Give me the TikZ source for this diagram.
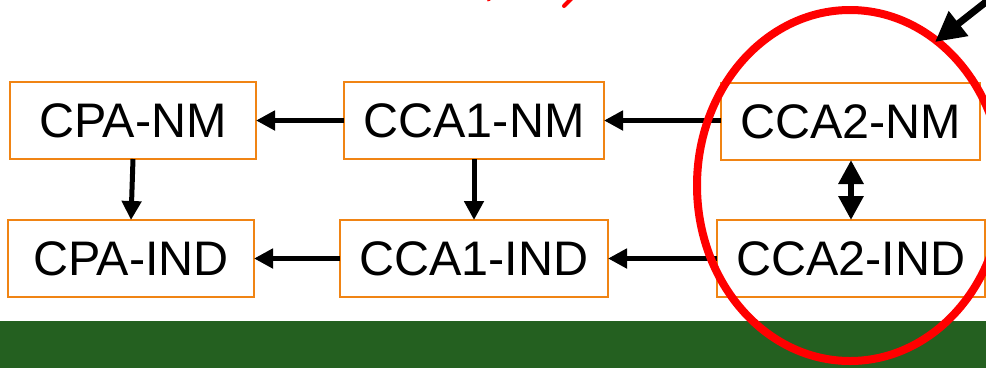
\documentclass[tikz,border=0pt]{standalone}
\usepackage{fontspec}
\setmainfont{Liberation Sans}
\usetikzlibrary{arrows.meta}
\definecolor{boxorange}{RGB}{240,132,20}
\definecolor{bandgreen}{RGB}{36,96,32}
\definecolor{ringred}{RGB}{255,0,0}
\tikzset{
  statebox/.style={draw=boxorange, line width=2pt, fill=white, inner sep=0pt, outer sep=0pt,
    minimum height=77pt, font=\fontsize{48.5}{50}\selectfont},
  implies/.style={line width=5pt, -{Triangle[length=19pt,width=19pt]}},
  bothways/.style={line width=6pt, {Triangle[length=24pt,width=24pt]}-{Triangle[length=24pt,width=24pt]}},
  pointer/.style={line width=7pt, -{Triangle[length=30pt,width=30pt]}}
}
\begin{document}
\begin{tikzpicture}[x=1pt,y=-1pt]
\useasboundingbox (0,0) rectangle (986,368);
\clip (0,0) rectangle (986,368);
% nodes
\node[statebox, minimum width=246pt] (cpanm) at (133,120.5) {CPA-NM};
\node[statebox, minimum width=246pt] (cpaind) at (131,258.5) {CPA-IND};
\node[statebox, minimum width=260pt] (cca1nm) at (474,120.5) {CCA1-NM};
\node[statebox, minimum width=268pt] (cca1ind) at (474,258.5) {CCA1-IND};
\node[statebox, minimum width=259pt] (cca2nm) at (850.5,121.5) {CCA2-NM};
\node[statebox, minimum width=268pt] (cca2ind) at (851,258.5) {CCA2-IND};
% connectors
\draw[implies] (cca1nm.west) -- (cpanm.east);
\draw[implies] (cca2nm.west |- cca1nm.east) -- (cca1nm.east);
\draw[implies] (cca1ind.west) -- (cpaind.east);
\draw[implies] (cca2ind.west) -- (cca1ind.east);
\draw[implies] (cpanm.south) -- (cpaind.north);
\draw[implies] (cca1nm.south) -- (cca1ind.north);
\draw[bothways] (cca2nm.south -| cca2ind.north) -- (cca2ind.north);
% green band
\fill[bandgreen] (0,321) rectangle (986,368);
% red ring
\coordinate (ringc) at (850,185.5);
\draw[ringred, line width=8pt] (ringc) ellipse [x radius=153, y radius=175.5];
% pointer arrow
\coordinate (ptrstart) at (1005,-13);
\coordinate (ptrtip) at (935,42);
\draw[pointer] (ptrstart) -- (ptrtip);
% clipped red title fragments
\draw[ringred, line width=3pt] (488,-3) -- (489,1);
\draw[ringred, line width=4pt, line cap=round] (574,-4) -- (564,6);
\end{tikzpicture}
\end{document}
